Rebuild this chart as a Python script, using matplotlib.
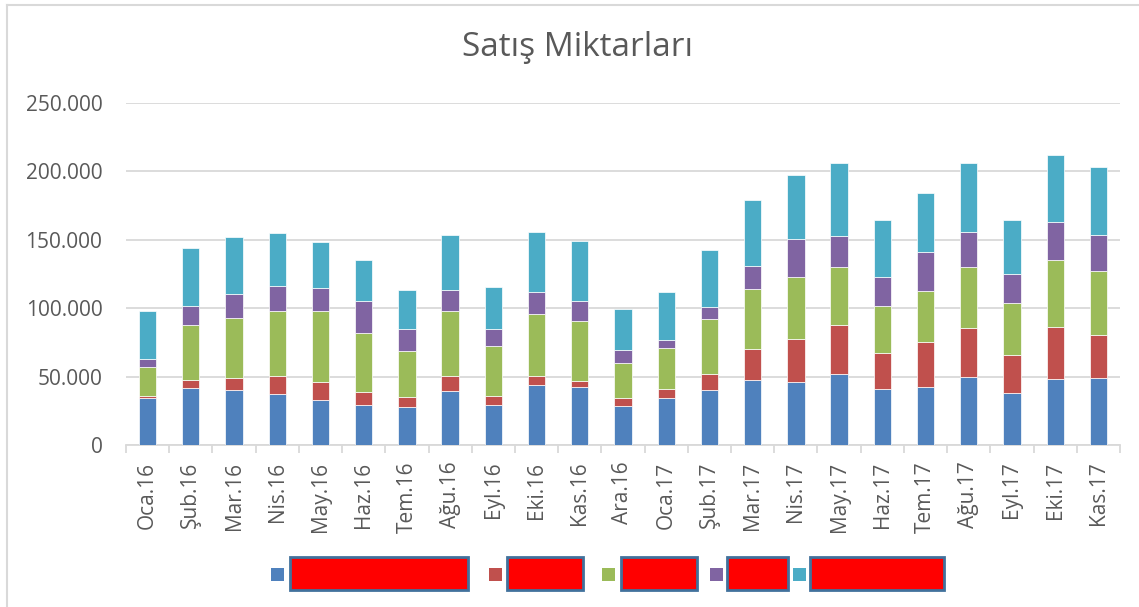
import matplotlib.pyplot as plt
from matplotlib.patches import Rectangle
from matplotlib.lines import Line2D
from matplotlib.ticker import FuncFormatter, FixedLocator
import numpy as np

months = ['Oca.16', 'Şub.16', 'Mar.16', 'Nis.16', 'May.16', 'Haz.16', 'Tem.16',
          'Ağu.16', 'Eyl.16', 'Eki.16', 'Kas.16', 'Ara.16', 'Oca.17', 'Şub.17',
          'Mar.17', 'Nis.17', 'May.17', 'Haz.17', 'Tem.17', 'Ağu.17', 'Eyl.17',
          'Eki.17', 'Kas.17']

# values (thousands)
s1 = [34.4, 41.5, 40.5, 37.6, 32.9, 29.3, 27.6, 39.5, 29.3, 43.7, 42.5, 28.8,
      34.6, 40.3, 47.3, 46.4, 52.0, 41.0, 42.2, 49.8, 38.3, 48.3, 49.0]
s2 = [1.5, 5.8, 8.5, 12.7, 13.2, 9.3, 7.3, 10.8, 6.3, 6.6, 4.3, 5.6,
      6.1, 11.7, 22.7, 30.9, 35.4, 26.1, 33.2, 35.8, 27.3, 37.8, 31.3]
s3 = [21.2, 40.1, 43.5, 48.0, 51.5, 43.4, 33.9, 47.3, 37.1, 45.1, 44.2, 25.9,
      30.3, 40.0, 43.7, 45.2, 42.4, 34.6, 37.3, 44.4, 37.9, 49.3, 46.8]
s4 = [5.9, 14.3, 18.0, 17.8, 17.1, 23.2, 15.9, 15.4, 12.2, 16.4, 14.4, 9.2,
      5.9, 9.0, 17.3, 27.8, 22.9, 21.0, 28.3, 25.7, 21.7, 27.6, 26.6]
s5 = [35.1, 42.3, 41.5, 38.6, 33.9, 30.0, 28.3, 40.2, 30.3, 44.1, 43.4, 29.8,
      35.3, 41.3, 47.9, 47.3, 53.2, 41.8, 43.0, 50.2, 39.0, 49.3, 49.8]

series = [s1, s2, s3, s4, s5]
colors = ['#4F81BD', '#C0504D', '#9BBB59', '#8064A2', '#4BACC6']

plt.rcParams['font.family'] = ['Open Sans', 'DejaVu Sans']
grey = '#595959'
line_grey = '#D9D9D9'

fig = plt.figure(figsize=(11.39, 6.07), dpi=100)
ax = fig.add_axes([126 / 1139, 1 - 445 / 607, (1120 - 126) / 1139, (445 - 103) / 607])

x = np.arange(len(months))
bottom = np.zeros(len(months))
for vals, c in zip(series, colors):
    v = np.array(vals) * 1000
    ax.bar(x, v, width=0.4, bottom=bottom, color=c, edgecolor='white', linewidth=0.5, zorder=3)
    bottom += v

ax.set_xlim(-0.5, len(months) - 0.5)
ax.set_ylim(0, 250000)
ax.set_yticks(np.arange(0, 250001, 50000))
ax.yaxis.set_major_formatter(FuncFormatter(lambda v, p: f"{int(v):,}".replace(',', '.')))
ax.grid(axis='y', color=line_grey, linewidth=1.3, zorder=0)

ax.set_xticks(x)
ax.set_xticklabels(months, rotation=90)
ax.xaxis.set_minor_locator(FixedLocator(np.arange(-0.5, len(months), 1)))
ax.tick_params(axis='x', which='major', length=0, pad=12, labelsize=15, labelcolor=grey)
ax.tick_params(axis='x', which='minor', length=6, width=1.3, color=line_grey)
ax.tick_params(axis='y', length=0, pad=17, labelsize=15, labelcolor=grey)

for side in ['top', 'right', 'left']:
    ax.spines[side].set_visible(False)
ax.spines['bottom'].set_color(line_grey)
ax.spines['bottom'].set_linewidth(1.3)

fig.text(577 / 1139, 1 - 48 / 607, 'Satış Miktarları', ha='center', va='center',
         fontsize=24, color=grey)

# legend: colour squares and the covered label boxes
W, H = 1139, 607
markers = [271, 489, 602, 710, 793]
boxes = [(290, 468), (507, 583), (621, 697), (727, 788), (810, 944)]
for mx, (b0, b1), c in zip(markers, boxes, colors):
    fig.patches.append(Rectangle((mx / W, 1 - 581 / H), 13 / W, 13 / H,
                                 transform=fig.transFigure, facecolor=c, edgecolor='none'))
    fig.patches.append(Rectangle((b0 / W, 1 - 590 / H), (b1 - b0) / W, 33 / H,
                                 transform=fig.transFigure, facecolor='#FF0000',
                                 edgecolor='#41719C', linewidth=2))

# chart area border
fig.lines.append(Line2D([6.5 / W, 1], [1 - 4.5 / H, 1 - 4.5 / H], transform=fig.transFigure,
                        color=line_grey, linewidth=1.5))
fig.lines.append(Line2D([6.5 / W, 6.5 / W], [0, 1 - 4.5 / H], transform=fig.transFigure,
                        color=line_grey, linewidth=1.5))

fig.savefig('out.png', dpi=100)
